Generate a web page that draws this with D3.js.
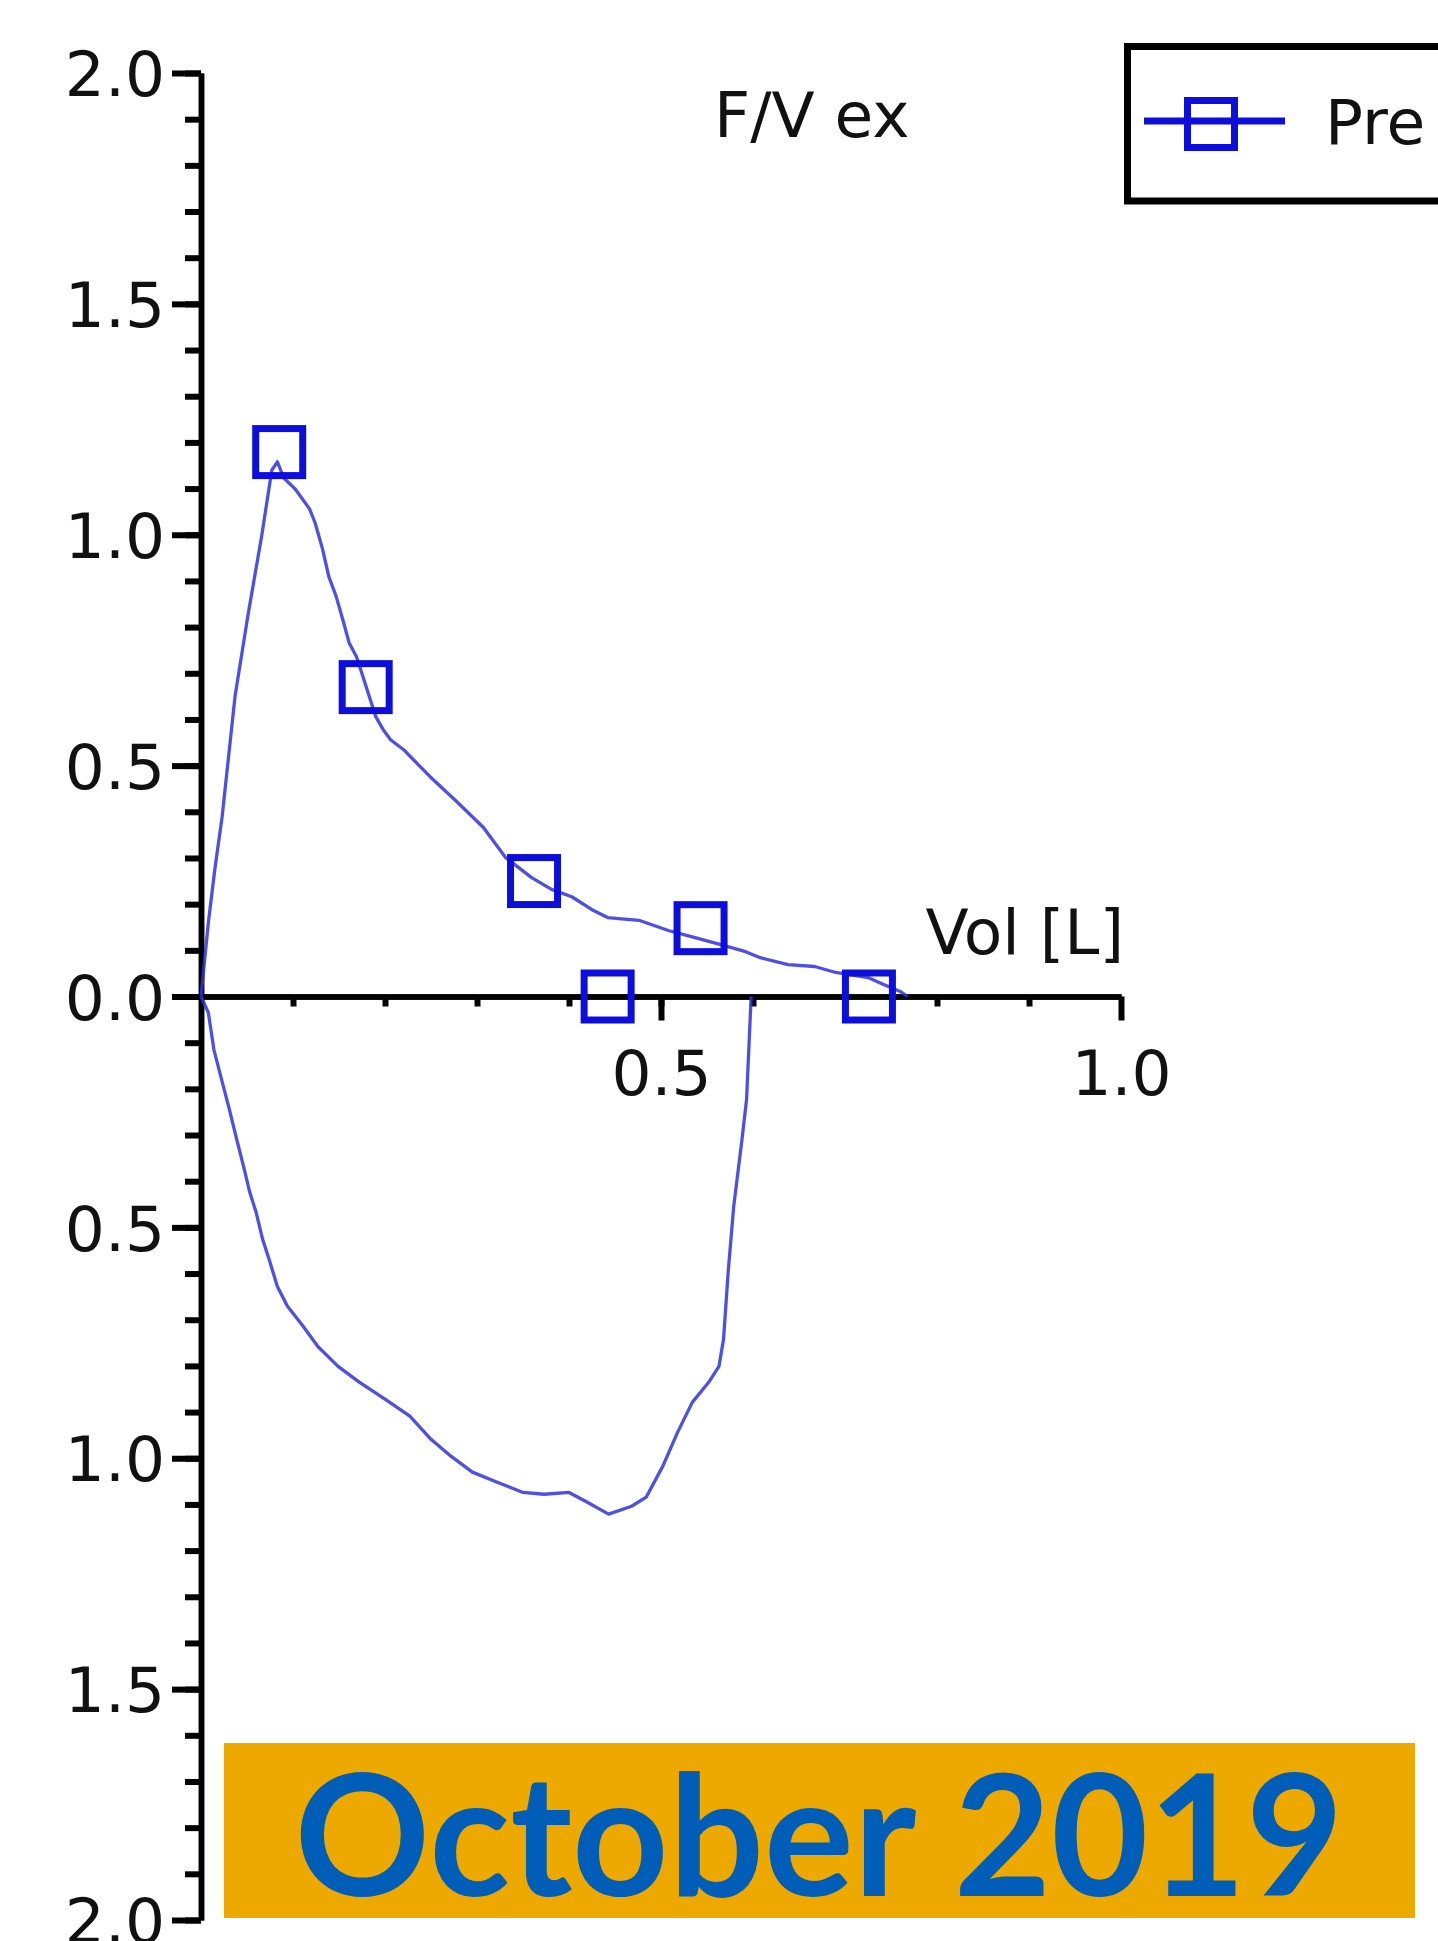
<!DOCTYPE html>
<html>
<head>
<meta charset="utf-8">
<script src="https://cdn.jsdelivr.net/npm/d3@7"></script>
<style>
  body { margin: 0; background: white; }
  svg { display: block; }
</style>
</head>
<body>
<svg id="chart"></svg>
<script>
// expiratory limb (volume L, flow L/s)
var expVol  = [0, 0.008, 0.015, 0.023, 0.037, 0.051, 0.066, 0.077, 0.083, 0.090, 0.102, 0.118, 0.124, 0.132, 0.139, 0.147, 0.155, 0.161, 0.169, 0.176, 0.183, 0.190, 0.198, 0.206, 0.220, 0.249, 0.279, 0.307, 0.331, 0.359, 0.381, 0.403, 0.425, 0.442, 0.476, 0.508, 0.536, 0.564, 0.592, 0.608, 0.638, 0.667, 0.690, 0.725, 0.742, 0.760, 0.768];
var expFlow = [0, 0.16, 0.275, 0.39, 0.65, 0.825, 0.998, 1.14, 1.158, 1.123, 1.10, 1.056, 1.026, 0.97, 0.909, 0.866, 0.81, 0.766, 0.736, 0.693, 0.649, 0.606, 0.578, 0.556, 0.535, 0.476, 0.42, 0.366, 0.301, 0.258, 0.232, 0.216, 0.188, 0.171, 0.165, 0.143, 0.128, 0.113, 0.097, 0.084, 0.069, 0.065, 0.052, 0.041, 0.026, 0.011, 0];

// inspiratory limb
var inspVol  = [0, 0.008, 0.014, 0.025, 0.030, 0.038, 0.047, 0.053, 0.060, 0.067, 0.074, 0.083, 0.094, 0.111, 0.127, 0.149, 0.172, 0.200, 0.227, 0.250, 0.272, 0.295, 0.322, 0.350, 0.373, 0.400, 0.418, 0.443, 0.468, 0.484, 0.502, 0.518, 0.534, 0.552, 0.563, 0.568, 0.573, 0.579, 0.588, 0.593, 0.598];
var inspFlow = [0, -0.035, -0.115, -0.20, -0.238, -0.303, -0.374, -0.424, -0.468, -0.526, -0.569, -0.628, -0.671, -0.714, -0.758, -0.801, -0.835, -0.872, -0.909, -0.959, -0.996, -1.03, -1.052, -1.074, -1.078, -1.074, -1.093, -1.121, -1.104, -1.084, -1.017, -0.944, -0.879, -0.835, -0.801, -0.742, -0.597, -0.455, -0.310, -0.223, 0];

// square markers
var markerVol  = [0.085, 0.179, 0.362, 0.543, 0.442, 0.726];
var markerFlow = [1.179, 0.670, 0.250, 0.148, 0, 0];

var yTickValues = [2, 1.5, 1, 0.5, 0, -0.5, -1, -1.5, -2];
var yTickLabels = ["2.0", "1.5", "1.0", "0.5", "0.0", "0.5", "1.0", "1.5", "2.0"];
var xTickValues = [0.5, 1.0];
var xTickLabels = ["0.5", "1.0"];

var seriesName = "Pre";
var chartTitle = "F/V ex";
var xTitle = "Vol [L]";
var banner = "October 2019";

var width = 1438, height = 1941;
var blue = "#0d0ddc";
var tickFont = "'DejaVu Sans', sans-serif";

var svg = d3.select("#chart")
  .attr("width", width)
  .attr("height", height);

var x = d3.scaleLinear().domain([0, 1]).range([201, 1121]);
var y = d3.scaleLinear().domain([-2, 2]).range([1920, 73]);

// y axis: minor ticks first, then the major ones with labels
var yMinor = d3.axisLeft(y)
  .tickValues(d3.range(-20, 21).map(function(d) { return d / 10; }))
  .tickSize(16)
  .tickSizeOuter(0)
  .tickFormat("");

var yMajor = d3.axisLeft(y)
  .tickValues(yTickValues)
  .tickSize(29)
  .tickSizeOuter(0)
  .tickPadding(7)
  .tickFormat(function(d, i) { return yTickLabels[i]; });

var gyMinor = svg.append("g")
  .attr("transform", "translate(" + x(0) + ",0)")
  .call(yMinor);

var gyMajor = svg.append("g")
  .attr("transform", "translate(" + x(0) + ",0)")
  .call(yMajor);

// x axis
var xMinor = d3.axisBottom(x)
  .tickValues(d3.range(1, 10).map(function(d) { return d / 10; }))
  .tickSize(10)
  .tickSizeOuter(0)
  .tickFormat("");

var xMajor = d3.axisBottom(x)
  .tickValues(xTickValues)
  .tickSize(24)
  .tickSizeOuter(0)
  .tickFormat(function(d, i) { return xTickLabels[i]; });

var gxMinor = svg.append("g")
  .attr("transform", "translate(0," + y(0) + ")")
  .call(xMinor);

var gxMajor = svg.append("g")
  .attr("transform", "translate(0," + y(0) + ")")
  .call(xMajor);

gxMajor.selectAll(".tick text")
  .attr("y", 98)
  .attr("dy", 0);

svg.selectAll(".domain")
  .attr("stroke", "black")
  .attr("stroke-width", 5.5);

svg.selectAll(".tick line")
  .attr("stroke", "black")
  .attr("stroke-width", 6);

svg.selectAll(".tick text")
  .attr("fill", "#111")
  .style("font-family", tickFont)
  .style("font-size", "63px");

gyMajor.selectAll(".tick text").attr("dy", "0.36em");

// the loop
var line = d3.line()
  .x(function(d) { return x(d[0]); })
  .y(function(d) { return y(d[1]); });

var expPts = expVol.map(function(v, i) { return [v, expFlow[i]]; });
var inspPts = inspVol.map(function(v, i) { return [v, inspFlow[i]]; });

svg.append("path")
  .datum(expPts)
  .attr("d", line)
  .attr("fill", "none")
  .attr("stroke", "#3030e2")
  .attr("stroke-width", 3.3)
  .attr("stroke-opacity", 0.85)
  .attr("stroke-linejoin", "round");

svg.append("path")
  .datum(inspPts)
  .attr("d", line)
  .attr("fill", "none")
  .attr("stroke", "#3030e2")
  .attr("stroke-width", 3.3)
  .attr("stroke-opacity", 0.85)
  .attr("stroke-linejoin", "round");

var mSize = 47;
svg.append("g")
  .selectAll("rect")
  .data(markerVol)
  .enter().append("rect")
  .attr("x", function(d) { return x(d) - mSize / 2; })
  .attr("y", function(d, i) { return y(markerFlow[i]) - mSize / 2; })
  .attr("width", mSize)
  .attr("height", mSize)
  .attr("fill", "none")
  .attr("stroke", blue)
  .attr("stroke-width", 7);

// titles
svg.append("text")
  .attr("x", 714)
  .attr("y", 137)
  .attr("fill", "#111")
  .style("font-family", tickFont)
  .style("font-size", "63px")
  .text(chartTitle);

svg.append("text")
  .attr("x", 1124)
  .attr("y", 954)
  .attr("text-anchor", "end")
  .attr("fill", "#111")
  .style("font-family", tickFont)
  .style("font-size", "63px")
  .text(xTitle);

// legend, runs off the right edge
var legend = svg.append("g");

legend.append("rect")
  .attr("x", 1127.5)
  .attr("y", 46.5)
  .attr("width", 400)
  .attr("height", 154.5)
  .attr("fill", "white")
  .attr("stroke", "black")
  .attr("stroke-width", 7);

legend.append("line")
  .attr("x1", 1144)
  .attr("x2", 1285)
  .attr("y1", 121)
  .attr("y2", 121)
  .attr("stroke", blue)
  .attr("stroke-width", 7);

legend.append("rect")
  .attr("x", 1211 - mSize / 2)
  .attr("y", 124 - mSize / 2)
  .attr("width", mSize)
  .attr("height", mSize)
  .attr("fill", "none")
  .attr("stroke", blue)
  .attr("stroke-width", 7);

legend.append("text")
  .attr("x", 1325)
  .attr("y", 144)
  .attr("fill", "#111")
  .style("font-family", tickFont)
  .style("font-size", "63px")
  .text(seriesName);

// date banner
svg.append("rect")
  .attr("x", 224)
  .attr("y", 1743)
  .attr("width", 1191)
  .attr("height", 175)
  .attr("fill", "#eda900");

svg.append("text")
  .attr("x", 819)
  .attr("y", 1896)
  .attr("text-anchor", "middle")
  .attr("fill", "#005eb8")
  .style("font-family", "Lato, sans-serif")
  .style("font-weight", "bold")
  .style("font-size", "168px")
  .text(banner);
</script>
</body>
</html>
